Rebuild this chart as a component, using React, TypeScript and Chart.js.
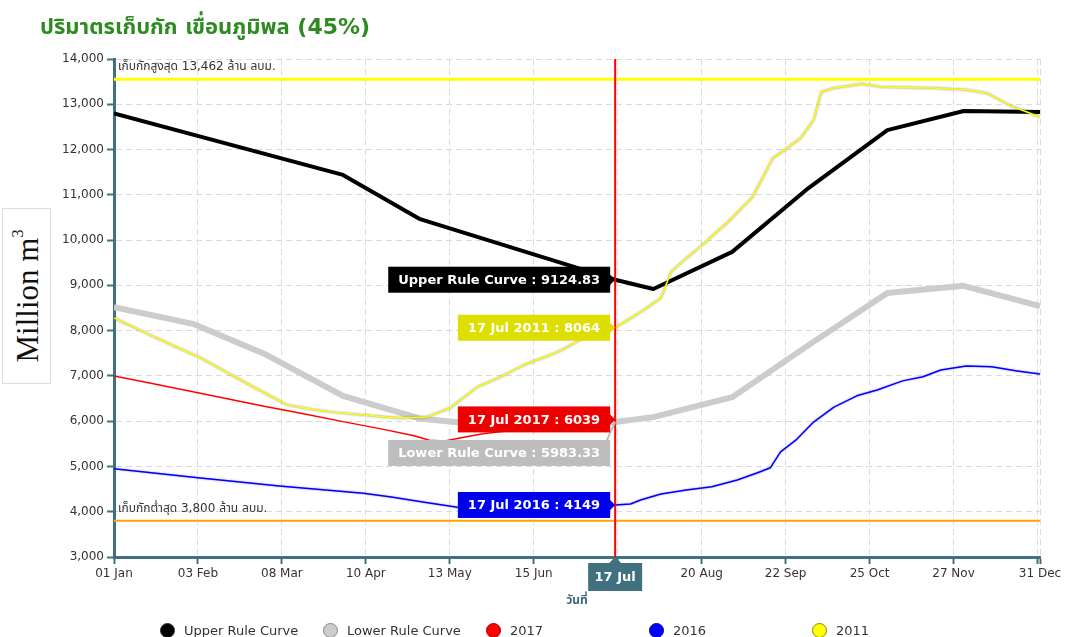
import React, { useEffect, useRef } from "react";
import { Chart, registerables } from "chart.js";

Chart.register(...registerables);

// ---------- text ----------
const TITLE = "ปริมาตรเก็บกัก เขื่อนภูมิพล (45%)";
const X_TITLE = "วันที่";
const MAX_TEXT = "เก็บกักสูงสุด 13,462 ล้าน ลบม.";
const MIN_TEXT = "เก็บกักต่ำสุด 3,800 ล้าน ลบม.";
const CURRENT_LABEL = "17 Jul";
const MONTHS = ["Jan", "Feb", "Mar", "Apr", "May", "Jun", "Jul", "Aug", "Sep", "Oct", "Nov", "Dec"];

// ---------- axes ----------
const X_TICK_DAYS = [0, 33, 66, 99, 132, 165, 198, 231, 264, 297, 330, 363, 364];
const HIDDEN_TICK_DAYS = [363];
const Y_MIN = 3000;
const Y_MAX = 14000;
const Y_STEP = 1000;
const CURRENT_DAY = 197;

// ---------- reference levels ----------
const MAX_LEVEL = 13550;
const MIN_LEVEL = 3800;

// ---------- series (day of year, million m3) ----------
const upperDays = [0, 90, 120, 197, 212, 243, 273, 304, 334, 364];
const upperValues = [12800, 11440, 10470, 9124.83, 8920, 9740, 11150, 12430, 12850, 12830];

const lowerDays = [0, 31, 59, 90, 120, 151, 181, 197, 212, 243, 273, 304, 334, 364];
const lowerValues = [8520, 8150, 7490, 6560, 6060, 5890, 5930, 5983.33, 6090, 6530, 7680, 8830, 8990, 8540];

const y2017Days = [0, 15, 31, 45, 59, 75, 90, 105, 118, 124, 130, 137, 145, 155, 170, 185, 197];
const y2017Values = [7000, 6830, 6650, 6490, 6330, 6160, 5990, 5830, 5680, 5580, 5560, 5640, 5720, 5790, 5880, 5960, 6039];

const y2016Days = [0, 33, 65, 98, 109, 122, 135, 150, 165, 180, 190, 197, 203, 207, 215, 225, 235, 245, 253, 258, 262, 268, 275, 283, 292, 300, 310, 318, 325, 335, 345, 355, 364];
const y2016Values = [4950, 4750, 4570, 4410, 4325, 4210, 4100, 4080, 4090, 4110, 4130, 4149, 4170, 4260, 4390, 4480, 4550, 4700, 4860, 4970, 5320, 5580, 5980, 6310, 6560, 6690, 6890, 6980, 7130, 7220, 7200, 7110, 7040];

const y2011Days = [0, 12, 24, 34, 44, 55, 68, 78, 86, 97, 112, 123, 132, 143, 152, 161, 170, 176, 183, 190, 197, 207, 215, 219, 225, 230, 241, 251, 259, 265, 270, 275, 278, 283, 294, 302, 322, 335, 343, 352, 364];
const y2011Values = [8280, 7960, 7650, 7400, 7090, 6750, 6360, 6260, 6200, 6140, 6070, 6090, 6290, 6760, 6980, 7240, 7430, 7570, 7790, 7900, 8064, 8410, 8720, 9300, 9600, 9830, 10380, 10950, 11810, 12050, 12260, 12650, 13270, 13360, 13450, 13380, 13360, 13320, 13250, 12980, 12720];

const SERIES_NAMES = ["Upper Rule Curve", "Lower Rule Curve", "2017", "2016", "2011"];

const pts = (days: number[], vals: number[]) => days.map((d, i) => ({ x: d, y: vals[i] }));

const dayLabel = (day: number) => {
  const d = new Date(2017, 0, 1 + day);
  const dd = String(d.getDate()).padStart(2, "0");
  return `${dd} ${MONTHS[d.getMonth()]}`;
};

const TEAL = "#41707f";
const TICK_FONT = "'DejaVu Sans', 'Noto Sans Thai', sans-serif";

const overlayPlugin = {
  id: "overlay",
  beforeDatasetsDraw(chart: any) {
    const { ctx, chartArea: a, scales } = chart;
    const y = scales.y;
    ctx.save();
    const yMax = y.getPixelForValue(MAX_LEVEL);
    const yMin = y.getPixelForValue(MIN_LEVEL);
    ctx.lineWidth = 3;
    ctx.strokeStyle = "#ffff00";
    ctx.beginPath();
    ctx.moveTo(a.left, yMax);
    ctx.lineTo(a.right, yMax);
    ctx.stroke();
    ctx.lineWidth = 2;
    ctx.strokeStyle = "#ffa500";
    ctx.beginPath();
    ctx.moveTo(a.left, yMin);
    ctx.lineTo(a.right, yMin);
    ctx.stroke();
    ctx.font = `12px ${TICK_FONT}`;
    ctx.fillStyle = "#333";
    ctx.textAlign = "left";
    ctx.textBaseline = "middle";
    ctx.fillText(MAX_TEXT, a.left + 4, yMax - 12);
    ctx.fillText(MIN_TEXT, a.left + 4, yMin - 12);
    ctx.restore();
  },
  beforeDatasetDraw(chart: any, args: any) {
    const ds = chart.data.datasets[args.index];
    chart.ctx.save();
    if (ds.glow) {
      chart.ctx.shadowColor = ds.glow;
      chart.ctx.shadowBlur = 2;
    }
  },
  afterDatasetDraw(chart: any) {
    chart.ctx.restore();
  },
  afterDraw(chart: any) {
    const { ctx, chartArea: a, scales } = chart;
    const x = scales.x;
    const y = scales.y;
    const px = x.getPixelForValue(CURRENT_DAY);
    ctx.save();
    // crosshair
    ctx.strokeStyle = "#ff0000";
    ctx.lineWidth = 2;
    ctx.beginPath();
    ctx.moveTo(px, a.top);
    ctx.lineTo(px, a.bottom);
    ctx.stroke();

    // tooltips
    ctx.font = `bold 13px ${TICK_FONT}`;
    ctx.textBaseline = "middle";
    ctx.textAlign = "left";
    chart.data.datasets.forEach((ds: any) => {
      const pt = ds.data.find((p: any) => p.x === CURRENT_DAY);
      if (!pt) return;
      const py = y.getPixelForValue(pt.y);
      const text = `${ds.tipName} : ${pt.y}`;
      const w = ctx.measureText(text).width + 20;
      const h = 26;
      const right = px - 5;
      const shift = ds.tipShift || 0;
      const cy = py + shift;
      ctx.fillStyle = ds.tipColor;
      if (shift) {
        ctx.strokeStyle = ds.tipColor;
        ctx.lineWidth = 2;
        ctx.beginPath();
        ctx.moveTo(right - 4, cy - h / 2 + 2);
        ctx.lineTo(px, py);
        ctx.stroke();
      } else {
        ctx.beginPath();
        ctx.moveTo(right - 1, cy - 6);
        ctx.lineTo(px, cy);
        ctx.lineTo(right - 1, cy + 6);
        ctx.closePath();
        ctx.fill();
      }
      ctx.fillRect(right - w, cy - h / 2, w, h);
      ctx.fillStyle = "#ffffff";
      ctx.fillText(text, right - w + 10, cy + 1);
    });

    // x crosshair label
    const bw = 54;
    const bh = 28;
    const top = a.bottom + 6;
    ctx.fillStyle = TEAL;
    ctx.beginPath();
    ctx.moveTo(px - 6, top);
    ctx.lineTo(px, a.bottom);
    ctx.lineTo(px + 6, top);
    ctx.closePath();
    ctx.fill();
    ctx.fillRect(px - bw / 2, top, bw, bh);
    ctx.fillStyle = "#ffffff";
    ctx.textAlign = "center";
    ctx.fillText(CURRENT_LABEL, px, top + bh / 2 + 1);
    ctx.restore();
  },
};

const LEGEND = [
  { name: SERIES_NAMES[0], fill: "#000000", border: "#333333" },
  { name: SERIES_NAMES[1], fill: "#cccccc", border: "#888888" },
  { name: SERIES_NAMES[2], fill: "#ff0000", border: "#990000" },
  { name: SERIES_NAMES[3], fill: "#0000ff", border: "#000099" },
  { name: SERIES_NAMES[4], fill: "#ffff00", border: "#888800" },
];

export default function App() {
  const canvasRef = useRef<HTMLCanvasElement | null>(null);

  useEffect(() => {
    if (!canvasRef.current) return;
    const chart = new Chart(canvasRef.current, {
      type: "line",
      data: {
        datasets: [
          {
            label: SERIES_NAMES[0],
            data: pts(upperDays, upperValues),
            borderColor: "#000000",
            borderWidth: 4,
            order: 4,
            tipName: "Upper Rule Curve",
            tipColor: "#000000",
          } as any,
          {
            label: SERIES_NAMES[1],
            data: pts(lowerDays, lowerValues),
            borderColor: "#cccccc",
            borderWidth: 6,
            order: 5,
            tipName: "Lower Rule Curve",
            tipColor: "#bdbdbd",
            tipShift: 31,
          } as any,
          {
            label: SERIES_NAMES[2],
            data: pts(y2017Days, y2017Values),
            borderColor: "#ff0000",
            borderWidth: 1.5,
            order: 2,
            tipName: `${CURRENT_LABEL} 2017`,
            tipColor: "#ee0000",
          } as any,
          {
            label: SERIES_NAMES[3],
            data: pts(y2016Days, y2016Values),
            borderColor: "#0000ff",
            borderWidth: 1.5,
            order: 3,
            glow: "rgba(90,90,200,0.6)",
            tipName: `${CURRENT_LABEL} 2016`,
            tipColor: "#0000ee",
          } as any,
          {
            label: SERIES_NAMES[4],
            data: pts(y2011Days, y2011Values),
            borderColor: "#ffff00",
            borderWidth: 1.5,
            order: 1,
            glow: "rgba(80,80,80,0.7)",
            tipName: `${CURRENT_LABEL} 2011`,
            tipColor: "#dede00",
          } as any,
        ],
      },
      options: {
        animation: false,
        responsive: false,
        maintainAspectRatio: false,
        parsing: false as any,
        elements: {
          point: { radius: 0, hoverRadius: 0 },
          line: { tension: 0, fill: false, borderCapStyle: "butt", borderJoinStyle: "round" },
        },
        layout: { padding: { left: 0, top: 59, right: 25, bottom: 28 } },
        plugins: {
          legend: { display: false },
          tooltip: { enabled: false },
          title: { display: false },
        },
        scales: {
          x: {
            type: "linear",
            min: 0,
            max: 364,
            afterBuildTicks: (scale: any) => {
              scale.ticks = X_TICK_DAYS.map((v) => ({ value: v }));
            },
            afterFit: (scale: any) => {
              scale.height = 52;
            },
            ticks: {
              autoSkip: false,
              maxRotation: 0,
              padding: 3,
              color: "#333",
              font: { family: TICK_FONT, size: 12 },
              callback: (v: any) => (HIDDEN_TICK_DAYS.includes(v) ? "" : dayLabel(v)),
            },
            grid: {
              color: "#d6dce0",
              lineWidth: 1,
              tickLength: 7,
              tickColor: TEAL,
              tickWidth: 2,
              tickBorderDash: [],
            },
            border: { display: true, color: TEAL, width: 3, dash: [6, 4] },
            title: {
              display: true,
              text: X_TITLE,
              color: "#3b6676",
              font: { family: TICK_FONT, size: 12, weight: "bold" },
              padding: { top: 2, bottom: 1 },
            },
          },
          y: {
            type: "linear",
            min: Y_MIN,
            max: Y_MAX,
            afterFit: (scale: any) => {
              scale.width = 114;
            },
            ticks: {
              stepSize: Y_STEP,
              padding: 3,
              color: "#333",
              font: { family: TICK_FONT, size: 12 },
              callback: (v: any) => Number(v).toLocaleString("en-US"),
            },
            grid: {
              color: "#d6dce0",
              lineWidth: 1,
              tickLength: 7,
              tickColor: TEAL,
              tickWidth: 2,
              tickBorderDash: [],
            },
            border: { display: true, color: TEAL, width: 3, dash: [6, 4] },
          },
        },
      },
      plugins: [overlayPlugin],
    });
    return () => chart.destroy();
  }, []);

  return (
    <div
      style={{
        position: "fixed",
        left: 0,
        top: 0,
        width: 1065,
        height: 637,
        background: "#fff",
        overflow: "hidden",
      }}
    >
      <canvas ref={canvasRef} width={1065} height={637} style={{ position: "absolute", left: 0, top: 0 }} />
      <div
        style={{
          position: "absolute",
          left: 40,
          top: 11,
          fontFamily: "'DejaVu Sans', 'Noto Sans Thai', sans-serif",
          fontWeight: "bold",
          fontSize: 22,
          color: "#2e8b22",
          whiteSpace: "nowrap",
        }}
      >
        {TITLE}
      </div>
      <div
        style={{
          position: "absolute",
          left: 2,
          top: 208,
          width: 47,
          height: 174,
          border: "1px solid #dddddd",
          background: "#fff",
        }}
      >
        <div
          style={{
            position: "absolute",
            left: "50%",
            top: "50%",
            transform: "translate(-50%, -50%) rotate(-90deg)",
            whiteSpace: "nowrap",
            fontFamily: "'Liberation Serif', 'DejaVu Serif', serif",
            fontSize: 31,
            color: "#111",
            lineHeight: 1,
          }}
        >
          Million m<sup style={{ fontSize: 16, verticalAlign: "top", position: "relative", top: -2 }}>3</sup>
        </div>
      </div>
      <div
        style={{
          position: "absolute",
          left: 160,
          top: 621,
          display: "flex",
          fontFamily: "'DejaVu Sans', sans-serif",
          fontSize: 13,
          color: "#333",
        }}
      >
        {LEGEND.map((item) => (
          <div key={item.name} style={{ width: 163, display: "flex", alignItems: "center", height: 18 }}>
            <span
              style={{
                display: "inline-block",
                width: 15,
                height: 15,
                borderRadius: "50%",
                background: item.fill,
                border: `1.5px solid ${item.border}`,
                marginRight: 9,
                boxSizing: "border-box",
              }}
            />
            <span>{item.name}</span>
          </div>
        ))}
      </div>
    </div>
  );
}
